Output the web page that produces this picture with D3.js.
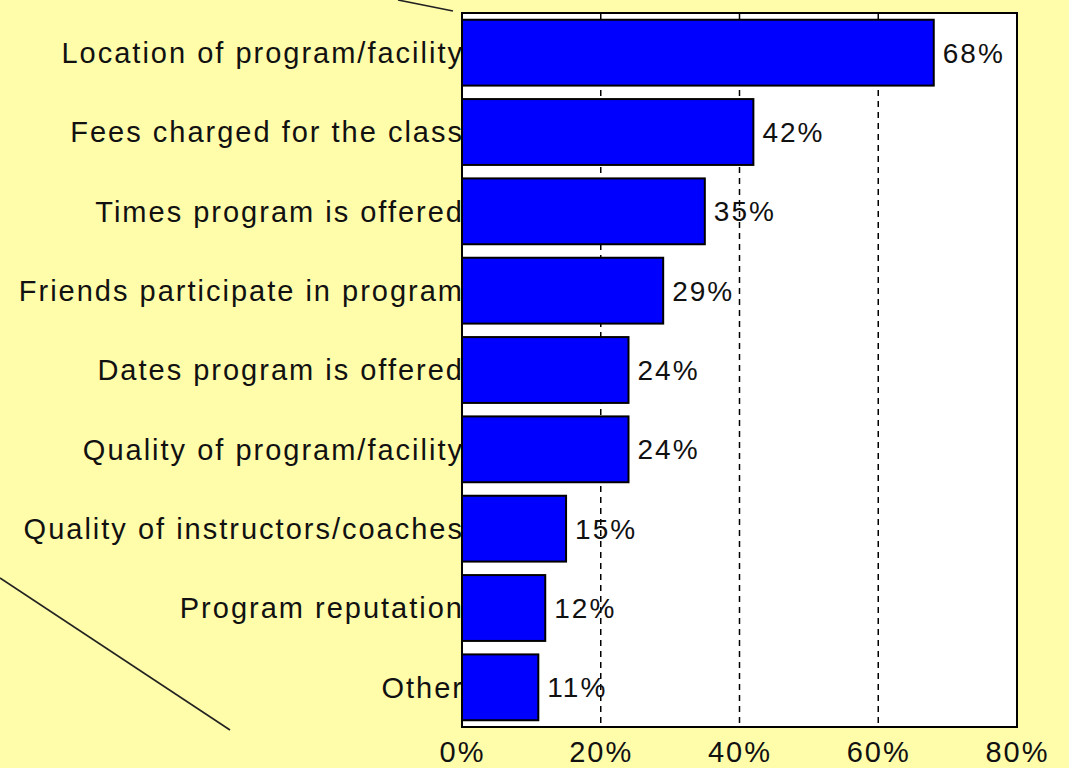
<!DOCTYPE html>
<html>
<head>
<meta charset="utf-8">
<script src="https://cdn.jsdelivr.net/npm/d3@7"></script>
<style>
  body { margin: 0; background: #fffcaa; }
  text { font-family: "Liberation Sans", Arial, sans-serif; fill: #111; letter-spacing: 2px; }
</style>
</head>
<body>
<div id="chart"></div>
<script>
var svgWidth = 1069;
var svgHeight = 768;

// data
var categories = [
  "Location of program/facility",
  "Fees charged for the class",
  "Times program is offered",
  "Friends participate in program",
  "Dates program is offered",
  "Quality of program/facility",
  "Quality of instructors/coaches",
  "Program reputation",
  "Other"
];
var values = [68, 42, 35, 29, 24, 24, 15, 12, 11];
var tickValues = [0, 20, 40, 60, 80];

var plot = { left: 462, right: 1017, top: 13, bottom: 727 };

var svg = d3.select("#chart")
  .append("svg")
  .attr("width", svgWidth)
  .attr("height", svgHeight);

// background
svg.append("rect")
  .attr("width", svgWidth)
  .attr("height", svgHeight)
  .attr("fill", "#fffcaa");

// callout lines from the slide
svg.append("line")
  .attr("x1", 398).attr("y1", 0)
  .attr("x2", 453).attr("y2", 11)
  .attr("stroke", "#222").attr("stroke-width", 1.6);
svg.append("line")
  .attr("x1", 0).attr("y1", 578)
  .attr("x2", 230).attr("y2", 730)
  .attr("stroke", "#222").attr("stroke-width", 1.6);

var xScale = d3.scaleLinear()
  .domain([0, 80])
  .range([plot.left, plot.right]);

var yScale = d3.scaleBand()
  .domain(categories)
  .range([plot.top, plot.bottom])
  .paddingInner(0.17)
  .paddingOuter(0.085);

// plot area
svg.append("rect")
  .attr("x", plot.left)
  .attr("y", plot.top)
  .attr("width", plot.right - plot.left)
  .attr("height", plot.bottom - plot.top)
  .attr("fill", "#fff");

// dashed gridlines
svg.append("g")
  .selectAll("line")
  .data(tickValues.slice(1, -1))
  .enter()
  .append("line")
  .attr("x1", d => xScale(d))
  .attr("x2", d => xScale(d))
  .attr("y1", plot.top)
  .attr("y2", plot.bottom)
  .attr("stroke", "#000")
  .attr("stroke-width", 1.5)
  .attr("stroke-dasharray", "6,5");

// bars
svg.append("g")
  .selectAll("rect")
  .data(values)
  .enter()
  .append("rect")
  .attr("x", xScale(0))
  .attr("y", (d, i) => yScale(categories[i]))
  .attr("width", d => xScale(d) - xScale(0))
  .attr("height", yScale.bandwidth())
  .attr("fill", "#0000ff")
  .attr("stroke", "#000")
  .attr("stroke-width", 2);

// value labels
svg.append("g")
  .selectAll("text")
  .data(values)
  .enter()
  .append("text")
  .attr("x", d => xScale(d) + 9)
  .attr("y", (d, i) => yScale(categories[i]) + yScale.bandwidth() / 2)
  .attr("dy", "0.36em")
  .attr("font-size", "28px")
  .text(d => d + "%");

// frame
svg.append("rect")
  .attr("x", plot.left)
  .attr("y", plot.top)
  .attr("width", plot.right - plot.left)
  .attr("height", plot.bottom - plot.top)
  .attr("fill", "none")
  .attr("stroke", "#000")
  .attr("stroke-width", 2);

// category labels (they run over the axis a little, like the original)
svg.append("g")
  .selectAll("text")
  .data(categories)
  .enter()
  .append("text")
  .attr("x", plot.left + 2)
  .attr("y", d => yScale(d) + yScale.bandwidth() / 2)
  .attr("dy", "0.36em")
  .attr("text-anchor", "end")
  .attr("font-size", "29px")
  .text(d => d);

// x axis tick labels
var xAxis = d3.axisBottom(xScale)
  .tickValues(tickValues)
  .tickSize(0)
  .tickPadding(0)
  .tickFormat(d => d + "%");

var axisG = svg.append("g")
  .attr("transform", `translate(0, ${plot.bottom + 14})`)
  .call(xAxis);
axisG.select(".domain").remove();
axisG.selectAll("text")
  .attr("font-size", "29px")
  .attr("font-family", "'Liberation Sans', Arial, sans-serif")
  .attr("fill", "#111");
</script>
</body>
</html>
